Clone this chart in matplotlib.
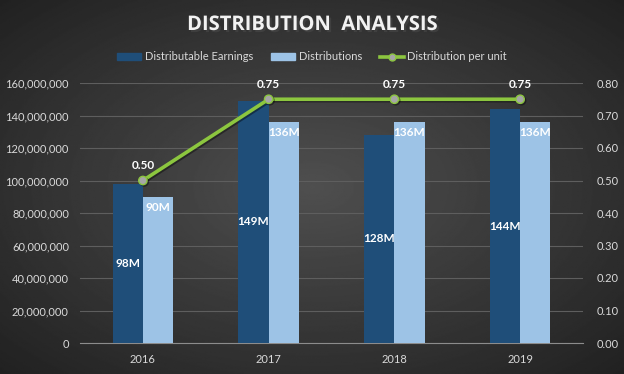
import numpy as np
import matplotlib.pyplot as plt
import matplotlib.patheffects as pe
from matplotlib.lines import Line2D
from matplotlib.patches import Patch

years = ["2016", "2017", "2018", "2019"]
earnings = [98e6, 149e6, 128e6, 144e6]
distributions = [90e6, 136e6, 136e6, 136e6]
per_unit = [0.50, 0.75, 0.75, 0.75]

DARK = "#1f4e79"
LIGHT = "#9dc3e6"
GREEN = "#8cc63f"
TXT = "#d9d9d9"

plt.rcParams["font.family"] = ["Lato", "DejaVu Sans"]

fig = plt.figure(figsize=(6.24, 3.74), dpi=100)

# radial gradient background, lighter in the middle
bg = fig.add_axes([0, 0, 1, 1], zorder=-10)
yy, xx = np.mgrid[-1:1:300j, -1:1:500j]
r = np.sqrt(xx ** 2 + yy ** 2) / np.sqrt(2)
shade = 0.31 - 0.18 * r
bg.imshow(shade, cmap="gray", vmin=0, vmax=1, aspect="auto", extent=[0, 1, 0, 1])
bg.axis("off")

ax = fig.add_axes([80 / 624, (374 - 343) / 374, 503 / 624, 260 / 374])
ax.patch.set_alpha(0)
x = np.arange(len(years))
w = 0.24
b1 = ax.bar(x - w / 2, earnings, w, color=DARK, zorder=3)
b2 = ax.bar(x + w / 2, distributions, w, color=LIGHT, zorder=3)
ax.set_xlim(-0.5, 3.5)
ax.set_ylim(0, 160e6)
ax.set_yticks(np.arange(0, 160e6 + 1, 20e6))
ax.yaxis.set_major_formatter(plt.FuncFormatter(lambda v, p: f"{int(v):,}"))
ax.set_xticks(x)
ax.set_xticklabels(years)
ax.grid(axis="y", color="#5e5e5e", lw=0.8, zorder=0)
for s in ["top", "left", "right"]:
    ax.spines[s].set_visible(False)
ax.spines["bottom"].set_color("#8c8c8c")
ax.tick_params(length=0, colors=TXT, labelsize=8, pad=8)

for rect, v in zip(b1, earnings):
    ax.text(rect.get_x() + rect.get_width() / 2, v / 2, f"{v / 1e6:.0f}M",
            ha="center", va="center", color="white", fontsize=8.5, fontweight="bold", zorder=5)
for rect, v in zip(b2, distributions):
    ax.text(rect.get_x() + rect.get_width() / 2, v - 3e6, f"{v / 1e6:.0f}M",
            ha="center", va="top", color="white", fontsize=8.5, fontweight="bold", zorder=5)

ax2 = ax.twinx()
ax2.set_ylim(0, 0.8)
ax2.set_yticks(np.arange(0, 0.81, 0.1))
ax2.yaxis.set_major_formatter(plt.FuncFormatter(lambda v, p: f"{v:.2f}"))
for s in ["top", "left", "right", "bottom"]:
    ax2.spines[s].set_visible(False)
ax2.tick_params(length=0, colors=TXT, labelsize=8, pad=10)
ax2.plot(x, per_unit, color=GREEN, lw=2.6, marker="o", ms=6, mfc="#a6a6a6",
         mec=GREEN, mew=1, zorder=6,
         path_effects=[pe.SimpleLineShadow(offset=(1, -1), alpha=0.4), pe.Normal()])
for xi, v in zip(x, per_unit):
    ax2.annotate(f"{v:.2f}", (xi, v), xytext=(0, 7), textcoords="offset points",
                 ha="center", va="bottom", color="white", fontsize=8.5, fontweight="bold")

fig.text(0.5, 1 - 25 / 374, "DISTRIBUTION  ANALYSIS", ha="center", va="center",
         color="#f2f2f2", fontsize=14.5, fontweight="bold", family=["Open Sans", "DejaVu Sans"],
         path_effects=[pe.withSimplePatchShadow(offset=(1.5, -1.5), alpha=0.6)])

handles = [Patch(color=DARK), Patch(color=LIGHT),
           Line2D([], [], color=GREEN, lw=2.6, marker="o", ms=5, mfc="#a6a6a6", mec=GREEN)]
fig.legend(handles, ["Distributable Earnings", "Distributions", "Distribution per unit"],
           loc="center", bbox_to_anchor=(0.5, 1 - 57 / 374), ncol=3, frameon=False,
           fontsize=8, labelcolor=TXT, handlelength=2.2, handleheight=0.6,
           handletextpad=0.3, columnspacing=1.6)

fig.savefig("out.png", dpi=100)
